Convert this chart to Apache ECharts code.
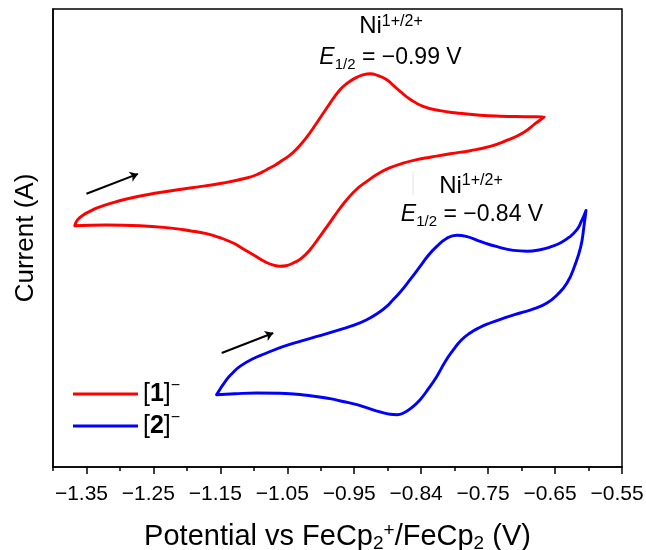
<!DOCTYPE html>
<html>
<head>
<meta charset="utf-8">
<script src="https://cdn.jsdelivr.net/npm/echarts@6/dist/echarts.min.js"></script>
<style>
  html, body { margin: 0; padding: 0; background: #fff; }
  #chart { width: 646px; height: 550px; }
</style>
</head>
<body>
<div id="chart"></div>
<script>
// ---- Data ----
// Tick positions on the potential axis (V) and their printed labels
const tickPositions = ['-1.40', '-1.35', '-1.30', '-1.25', '-1.20', '-1.15', '-1.10', '-1.05', '-1.00',
                       '-0.95', '-0.90', '-0.85', '-0.80', '-0.75', '-0.70', '-0.65', '-0.60', '-0.55'];
const tickLabels = ['\u22121.35', '\u22121.25', '\u22121.15', '\u22121.05', '\u22120.95',
                    '\u22120.84', '\u22120.75', '\u22120.65', '\u22120.55'];

// Complex [1]- (red): forward (anodic) scan, then reverse scan
const cv1Potential = [
  -1.3675,-1.3631,-1.3541,-1.3451,-1.3332,-1.3201,-1.2902,-1.2454,-1.1956,-1.1458,
  -1.1108,-1.0939,-1.0809,-1.0685,-1.0561,-1.0460,-1.0356,-1.0221,-1.0061,-0.9892,
  -0.9713,-0.9593,-0.9488,-0.9384,-0.9264,-0.9144,-0.9014,-0.8920,-0.8815,-0.8666,
  -0.8472,-0.8217,-0.7968,-0.7619,-0.7320,-0.6946,-0.6662,
  -0.6797,-0.6976,-0.7215,-0.7470,-0.7769,-0.8068,-0.8367,-0.8566,-0.8771,-0.8965,
  -0.9144,-0.9313,-0.9473,-0.9612,-0.9743,-0.9862,-1.0012,-1.0161,-1.0296,-1.0411,
  -1.0520,-1.0610,-1.0700,-1.0819,-1.1009,-1.1163,-1.1308,-1.1507,-1.1706,-1.1956,
  -1.2206,-1.2704,-1.3201,-1.3675];
const cv1Current = [
  2.537,2.799,3.018,3.162,3.323,3.454,3.703,3.965,4.183,4.402,
  4.620,4.786,4.983,5.179,5.419,5.616,5.900,6.358,7.022,7.755,
  8.476,8.782,8.978,9.109,9.175,9.087,8.913,8.672,8.402,8.061,
  7.747,7.559,7.459,7.362,7.319,7.297,7.284,
  6.991,6.598,6.271,6.000,5.812,5.681,5.528,5.419,5.266,5.070,
  4.808,4.472,4.109,3.672,3.179,2.686,2.074,1.489,1.096,0.908,
  0.790,0.769,0.812,0.943,1.271,1.533,1.782,2.013,2.188,2.319,
  2.419,2.537,2.568,2.537];

// Complex [2]- (blue)
const cv2Potential = [
  -1.1557,-1.1407,-1.1313,-1.1208,-1.1029,-1.0809,-1.0565,-1.0311,-1.0012,
  -0.9713,-0.9503,-0.9313,-0.9159,-0.9014,-0.8920,-0.8815,-0.8666,-0.8516,-0.8397,
  -0.8267,-0.8127,-0.7968,-0.7814,-0.7619,-0.7365,-0.7121,-0.6916,-0.6722,-0.6557,
  -0.6423,-0.6288,-0.6173,-0.6109,-0.6038,
  -0.6071,-0.6116,-0.6206,-0.6322,-0.6467,-0.6621,-0.6811,-0.7021,-0.7245,-0.7470,
  -0.7634,-0.7769,-0.7903,-0.8018,-0.8142,-0.8267,-0.8397,-0.8516,-0.8651,-0.8756,
  -0.8860,-0.8965,-0.9114,-0.9294,-0.9458,-0.9668,-0.9862,-1.0211,-1.0610,-1.0958,
  -1.1283,-1.1557];
const cv2Current = [
  -4.843,-4.188,-3.882,-3.607,-3.293,-3.022,-2.747,-2.515,-2.266,
  -2.004,-1.808,-1.568,-1.306,-0.987,-0.694,-0.367,0.179,0.760,1.227,
  1.633,1.969,2.122,2.057,1.852,1.620,1.459,1.424,1.489,1.620,
  1.782,2.035,2.362,2.712,3.205,
  2.450,1.620,0.790,0.035,-0.476,-0.838,-1.087,-1.275,-1.480,-1.712,
  -1.917,-2.148,-2.463,-2.878,-3.402,-4.044,-4.603,-5.061,-5.433,-5.629,
  -5.716,-5.699,-5.594,-5.433,-5.279,-5.140,-5.017,-4.865,-4.777,-4.769,
  -4.799,-4.843];

// Scan-direction arrows: [tail, head] in (V, current units)
const arrow1 = [[-1.350, 3.93], [-1.273, 4.80]];
const arrow2 = [[-1.148, -3.02], [-1.071, -2.15]];

const seriesNames = ['[1]\u207B', '[2]\u207B'];
const seriesColors = ['#ff0000', '#0000ff'];

// ---- Chart ----
const FONT = '"Liberation Sans", Arial, Helvetica, sans-serif';
const zip = (xs, ys) => xs.map((x, i) => [x, ys[i]]);

function arrowMark(a) {
  return {
    silent: true,
    symbol: ['none', 'arrow'],
    symbolSize: 8,
    lineStyle: { color: '#000', width: 2, type: 'solid' },
    label: { show: false },
    emphasis: { disabled: true },
    data: [[{ coord: a[0] }, { coord: a[1] }]]
  };
}

const chart = echarts.init(document.getElementById('chart'), null, { renderer: 'canvas' });

chart.setOption({
  animation: false,
  backgroundColor: '#fff',
  textStyle: { fontFamily: FONT },
  grid: {
    left: 53, right: 24, top: 9, bottom: 83,
    show: true, borderColor: '#000', borderWidth: 1.5, backgroundColor: 'transparent',
    containLabel: false,
    outerBoundsMode: 'none'
  },
  xAxis: [
    {
      type: 'value', position: 'bottom',
      min: -1.40, max: -0.55, interval: 0.05,
      axisLine: { show: true, onZero: false, lineStyle: { color: '#000', width: 1.5 } },
      axisTick: { show: true, length: 4, lineStyle: { color: '#000', width: 1.5 } },
      axisLabel: { show: false },
      splitLine: { show: false },
      name: 'Potential vs FeCp{sub|2}{sup|+}/FeCp{sub|2} (V)',
      nameLocation: 'middle',
      nameGap: 53,
      nameTextStyle: {
        color: '#000', fontSize: 29, fontFamily: FONT, lineHeight: 34,
        rich: {
          sub: { fontSize: 19, fontFamily: FONT, color: '#000', lineHeight: 34, padding: [14, 0, 0, 0] },
          sup: { fontSize: 19, fontFamily: FONT, color: '#000', lineHeight: 34, padding: [0, 0, 12, 0] }
        }
      }
    },
    {
      type: 'category', position: 'bottom',
      data: tickPositions,
      boundaryGap: false,
      axisLine: { show: false, onZero: false },
      axisTick: { show: true, length: 7, interval: (i) => i % 2 === 1, lineStyle: { color: '#000', width: 1.5 } },
      axisLabel: {
        show: true, interval: (i) => i % 2 === 1,
        formatter: (v, i) => tickLabels[(i - 1) / 2] || '',
        color: '#000', fontSize: 21, fontFamily: FONT, margin: 17,
        padding: [0, 10, 0, 0]
      },
      splitLine: { show: false }
    }
  ],
  yAxis: {
    type: 'value', min: -8, max: 12,
    axisLine: { show: true, onZero: false, lineStyle: { color: '#000', width: 1.5 } },
    axisTick: { show: false },
    axisLabel: { show: false },
    splitLine: { show: false },
    name: 'Current (A)',
    nameLocation: 'middle',
    nameGap: 14,
    nameTextStyle: { color: '#000', fontSize: 26, fontFamily: FONT }
  },
  legend: {
    orient: 'vertical',
    left: 73, top: 378, padding: 0, itemGap: 0,
    icon: 'rect', itemWidth: 65, itemHeight: 3,
    data: seriesNames,
    formatter: (name) => name === seriesNames[0] ? '[{b|1}]{sup|\u2212}' : '[{b|2}]{sup|\u2212}',
    textStyle: {
      color: '#000', fontSize: 25, fontFamily: FONT, lineHeight: 30,
      rich: {
        b: { fontSize: 25, fontWeight: 'bold', fontFamily: FONT, color: '#000', lineHeight: 30 },
        sup: { fontSize: 16, fontFamily: FONT, color: '#000', lineHeight: 30, padding: [0, 0, 16, 0] }
      }
    }
  },
  series: [
    {
      name: seriesNames[0], type: 'line', xAxisIndex: 0,
      data: zip(cv1Potential, cv1Current),
      showSymbol: false, symbol: 'none', smooth: 0.5,
      lineStyle: { color: seriesColors[0], width: 2.9, join: 'round', cap: 'round' },
      itemStyle: { color: seriesColors[0] },
      markLine: arrowMark(arrow1)
    },
    {
      name: seriesNames[1], type: 'line', xAxisIndex: 0,
      data: zip(cv2Potential, cv2Current),
      showSymbol: false, symbol: 'none', smooth: 0.5,
      lineStyle: { color: seriesColors[1], width: 2.9, join: 'round', cap: 'round' },
      itemStyle: { color: seriesColors[1] },
      markLine: arrowMark(arrow2)
    }
  ],
  graphic: [
    {
      type: 'text', x: 391, y: 26.5, silent: true,
      style: {
        text: 'Ni{sup|1+/2+}', align: 'center', verticalAlign: 'middle',
        fill: '#000', font: '24px ' + FONT, lineHeight: 28,
        rich: { sup: { fontSize: 16, fontFamily: FONT, fill: '#000', lineHeight: 28, padding: [0, 0, 10, 0] } }
      }
    },
    {
      type: 'text', x: 390.5, y: 58, silent: true,
      style: {
        text: '{i|E}{sub|1/2} = \u22120.99 V', align: 'center', verticalAlign: 'middle',
        fill: '#000', font: '23px ' + FONT, lineHeight: 28,
        rich: {
          i: { fontSize: 23, fontStyle: 'italic', fontFamily: FONT, fill: '#000', lineHeight: 28 },
          sub: { fontSize: 15, fontFamily: FONT, fill: '#000', lineHeight: 28, padding: [14, 0, 0, 0] }
        }
      }
    },
    {
      type: 'text', x: 471, y: 186, silent: true,
      style: {
        text: 'Ni{sup|1+/2+}', align: 'center', verticalAlign: 'middle',
        fill: '#000', font: '24px ' + FONT, lineHeight: 28,
        rich: { sup: { fontSize: 16, fontFamily: FONT, fill: '#000', lineHeight: 28, padding: [0, 0, 10, 0] } }
      }
    },
    {
      type: 'text', x: 472, y: 215, silent: true,
      style: {
        text: '{i|E}{sub|1/2} = \u22120.84 V', align: 'center', verticalAlign: 'middle',
        fill: '#000', font: '23px ' + FONT, lineHeight: 28,
        rich: {
          i: { fontSize: 23, fontStyle: 'italic', fontFamily: FONT, fill: '#000', lineHeight: 28 },
          sub: { fontSize: 15, fontFamily: FONT, fill: '#000', lineHeight: 28, padding: [14, 0, 0, 0] }
        }
      }
    },
    {
      type: 'line', silent: true,
      shape: { x1: 413, y1: 173, x2: 413, y2: 195 },
      style: { stroke: '#e2e2e2', lineWidth: 1 }
    }
  ]
});
</script>
</body>
</html>
